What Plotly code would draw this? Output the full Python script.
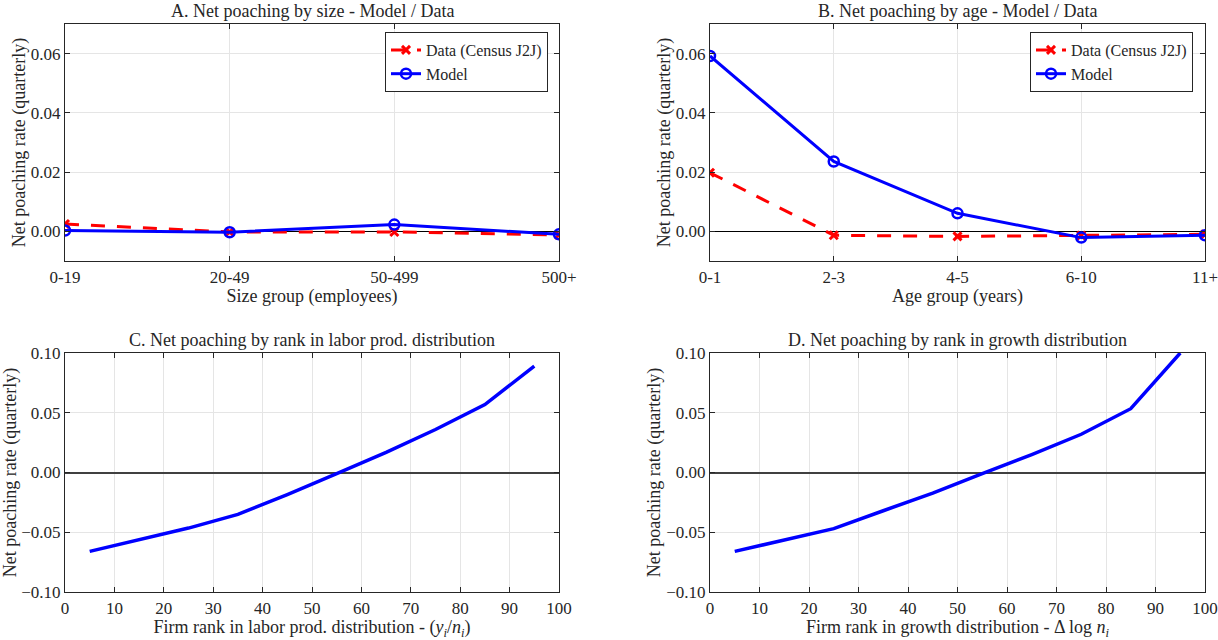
import plotly.graph_objects as go

# ---------------- data ----------------
size_groups = ["0-19", "20-49", "50-499", "500+"]
size_data = [0.0025, -0.0002, -0.0002, -0.0012]
size_model = [0.0003, -0.0003, 0.0023, -0.0010]

age_groups = ["0-1", "2-3", "4-5", "6-10", "11+"]
age_data = [0.0198, -0.0013, -0.0017, -0.0014, -0.0010]
age_model = [0.0592, 0.0236, 0.0061, -0.0021, -0.0013]

rank_x = [5, 15, 25, 35, 45, 55, 65, 75, 85, 95]
prod_model = [-0.066, -0.0565, -0.0465, -0.035, -0.0185, -0.001, 0.0168, 0.036, 0.0568, 0.089]
growth_model = [-0.066, -0.0565, -0.047, -0.032, -0.0172, -0.001, 0.015, 0.032, 0.0534, 0.100]

yticks_ab = [0.0, 0.02, 0.04, 0.06]
yticks_cd = [-0.10, -0.05, 0.0, 0.05, 0.10]
xticks_cd = list(range(0, 101, 10))

titles = ["A. Net poaching by size - Model / Data",
          "B. Net poaching by age - Model / Data",
          "C. Net poaching by rank in labor prod. distribution",
          "D. Net poaching by rank in growth distribution"]
xtitles = ["Size group (employees)", "Age group (years)",
           "Firm rank in labor prod. distribution - (<i>y<sub>i</sub></i>/<i>n<sub>i</sub></i>)",
           "Firm rank in growth distribution - Δ log <i>n<sub>i</sub></i>"]
ytitle = "Net poaching rate (quarterly)"

# ---------------- style ----------------
FONT = "Liberation Serif"
RED = "#ff0000"
BLUE = "#0000ff"
AX = "#262626"
GRID = "#e5e5e5"

W, H = 1218, 640
xdom_l = [65 / W, 559 / W]
xdom_r = [710 / W, 1205 / W]
ydom_t = [1 - 261 / H, 1 - 24 / H]
ydom_b = [1 - 592 / H, 1 - 353 / H]

fig = go.Figure()

def data_trace(x, y, xa, ya, lg):
    return go.Scatter(x=x, y=y, xaxis=xa, yaxis=ya, mode="lines+markers",
                      name="Data (Census J2J)", legend=lg,
                      line=dict(color=RED, width=3, dash="14px,12px"),
                      marker=dict(symbol="x-thin-open", size=8, color=RED,
                                  line=dict(color=RED, width=3)))

def model_trace(x, y, xa, ya, lg):
    return go.Scatter(x=x, y=y, xaxis=xa, yaxis=ya, mode="lines+markers",
                      name="Model", legend=lg,
                      line=dict(color=BLUE, width=3),
                      marker=dict(symbol="circle-open", size=10, color=BLUE,
                                  line=dict(color=BLUE, width=2.5)))

fig.add_trace(data_trace(size_groups, size_data, "x", "y", "legend"))
fig.add_trace(model_trace(size_groups, size_model, "x", "y", "legend"))
fig.add_trace(data_trace(age_groups, age_data, "x2", "y2", "legend2"))
fig.add_trace(model_trace(age_groups, age_model, "x2", "y2", "legend2"))
fig.add_trace(go.Scatter(x=rank_x, y=prod_model, xaxis="x3", yaxis="y3", mode="lines",
                         line=dict(color=BLUE, width=3.5), showlegend=False))
fig.add_trace(go.Scatter(x=rank_x, y=growth_model, xaxis="x4", yaxis="y4", mode="lines",
                         line=dict(color=BLUE, width=3.5), showlegend=False))

tickfont = dict(family=FONT, size=17, color=AX)
titlefont = dict(family=FONT, size=18, color=AX)

def xaxis(dom, anchor, **kw):
    d = dict(domain=dom, anchor=anchor, showline=True, linecolor=AX, linewidth=1.2,
             mirror="ticks", ticks="inside", ticklen=5, tickcolor=AX,
             showgrid=True, gridcolor=GRID, gridwidth=1, zeroline=False,
             automargin=False,
             tickfont=tickfont, title=dict(font=titlefont, standoff=2))
    d.update(kw)
    return d

def yaxis(dom, anchor, **kw):
    d = dict(domain=dom, anchor=anchor, showline=True, linecolor=AX, linewidth=1.2,
             mirror="ticks", ticks="inside", ticklen=5, tickcolor=AX,
             showgrid=True, gridcolor=GRID, gridwidth=1, zeroline=True,
             automargin=False,
             tickfont=tickfont, title=dict(text=ytitle, font=titlefont, standoff=0))
    d.update(kw)
    return d

legfont = dict(family=FONT, size=16, color=AX)
layout = dict(
    width=W, height=H, paper_bgcolor="white", plot_bgcolor="white",
    margin=dict(l=0, r=0, t=0, b=0, autoexpand=False), font=dict(family=FONT, color=AX),
    xaxis=xaxis(xdom_l, "y", type="category", range=[0, 3], title_text=xtitles[0]),
    yaxis=yaxis(ydom_t, "x", range=[-0.01, 0.07], tickvals=yticks_ab, tickformat=".2f",
                zerolinecolor="black", zerolinewidth=1),
    xaxis2=xaxis(xdom_r, "y2", type="category", range=[0, 4], title_text=xtitles[1]),
    yaxis2=yaxis(ydom_t, "x2", range=[-0.01, 0.07], tickvals=yticks_ab, tickformat=".2f",
                 zerolinecolor="black", zerolinewidth=1),
    xaxis3=xaxis(xdom_l, "y3", range=[0, 100], tickvals=xticks_cd, title_text=xtitles[2]),
    yaxis3=yaxis(ydom_b, "x3", range=[-0.1, 0.1], tickvals=yticks_cd, tickformat=".2f",
                 zerolinecolor="#404040", zerolinewidth=1.5),
    xaxis4=xaxis(xdom_r, "y4", range=[0, 100], tickvals=xticks_cd, title_text=xtitles[3]),
    yaxis4=yaxis(ydom_b, "x4", range=[-0.1, 0.1], tickvals=yticks_cd, tickformat=".2f",
                 zerolinecolor="#404040", zerolinewidth=1.5),
    legend=dict(x=xdom_l[1] - 11 / W, y=ydom_t[1] - 8 / H, xanchor="right", yanchor="top",
                bgcolor="white", bordercolor=AX, borderwidth=1, font=legfont,
                tracegroupgap=0, itemwidth=30),
    legend2=dict(x=xdom_r[1] - 12 / W, y=ydom_t[1] - 8 / H, xanchor="right", yanchor="top",
                 bgcolor="white", bordercolor=AX, borderwidth=1, font=legfont,
                 tracegroupgap=0, itemwidth=30),
)
fig.update_layout(**layout)

# panel titles
doms = [(xdom_l, ydom_t), (xdom_r, ydom_t), (xdom_l, ydom_b), (xdom_r, ydom_b)]
for t, (xd, yd) in zip(titles, doms):
    fig.add_annotation(text=t, x=(xd[0] + xd[1]) / 2, y=yd[1], xref="paper", yref="paper",
                       xanchor="center", yanchor="bottom", yshift=1, showarrow=False,
                       font=dict(family=FONT, size=18, color=AX))

fig.write_html("out.html", config={"displayModeBar": False},
               post_script="document.body.style.margin='0';")
